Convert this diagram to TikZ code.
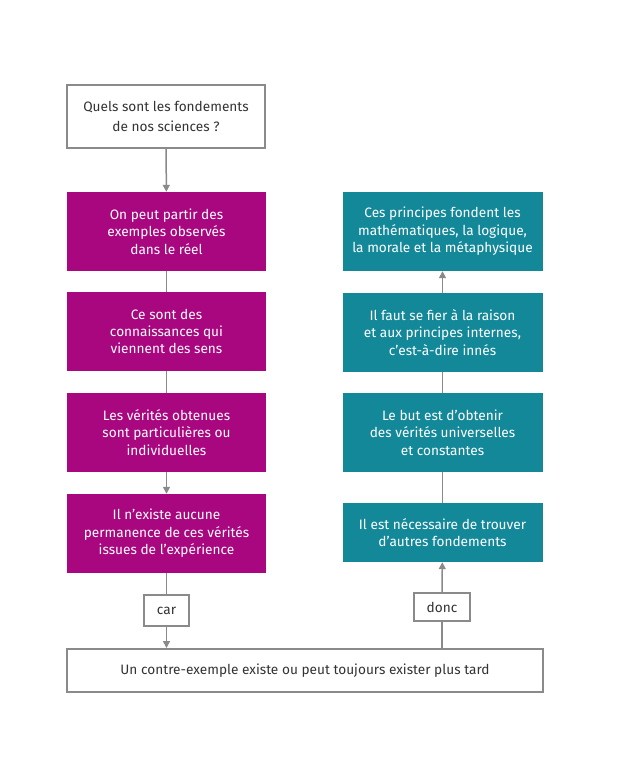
\documentclass[tikz,border=0pt]{standalone}
\usepackage{fontspec}
\setmainfont{Fira Sans}
\usetikzlibrary{arrows.meta}
\definecolor{mag}{HTML}{A8077F}
\definecolor{teal2}{HTML}{138899}
\definecolor{edge}{HTML}{8A8A8A}
\definecolor{txt}{HTML}{333333}
\begin{document}
\begin{tikzpicture}[x=1bp,y=-1bp,
  base/.style={rectangle,inner sep=0pt,align=center,font=\fontsize{13.7}{17.5}\selectfont},
  whitebox/.style={base,draw=edge,line width=2bp,fill=white,text=txt},
  magbox/.style={base,fill=mag,text=white,minimum width=199bp,minimum height=79bp},
  tealbox/.style={base,fill=teal2,text=white,minimum width=200bp,minimum height=79bp},
  conn/.style={draw=edge,line width=1.5bp},
  arr/.style={conn,-{Triangle[width=7bp,length=7bp]}}]
\useasboundingbox (0,0) rectangle (624,766);
\fill[white] (0,0) rectangle (624,766);
\node[whitebox,minimum width=198bp,minimum height=63bp,font=\fontsize{13.7}{21}\selectfont] (q) at (166,116.5) {Quels sont les fondements\\de nos sciences ?};
\node[magbox] (m1) at (166.5,231.5) {On peut partir des\\exemples observés\\dans le réel};
\node[magbox] (m2) at (166.5,331.5) {Ce sont des\\connaissances qui\\viennent des sens};
\node[magbox] (m3) at (166.5,432.5) {Les vérités obtenues\\sont particulières ou\\individuelles};
\node[magbox] (m4) at (166.5,533.5) {Il n’existe aucune\\permanence de ces vérités\\issues de l’expérience};
\node[tealbox] (t1) at (442.5,231.5) {Ces principes fondent les\\mathématiques, la logique,\\la morale et la métaphysique};
\node[tealbox] (t2) at (442.5,332.5) {Il faut se fier à la raison\\et aux principes internes,\\c’est-à-dire innés};
\node[tealbox] (t3) at (442.5,432.5) {Le but est d’obtenir\\des vérités universelles\\et constantes};
\node[tealbox,minimum height=59bp] (t4) at (442.5,532.5) {Il est nécessaire de trouver\\d’autres fondements};
\node[whitebox,minimum width=45bp,minimum height=31bp] (car) at (166.5,610.5) {car};
\node[whitebox,minimum width=56bp,minimum height=28bp] (donc) at (442,607) {donc};
\node[whitebox,minimum width=476bp,minimum height=43bp] (b) at (305,670.5) {Un contre-exemple existe ou peut toujours exister plus tard};
\draw[arr] (q) -- (m1);
\draw[conn] (m1) -- (m2);
\draw[conn] (m2) -- (m3);
\draw[arr] (m3) -- (m4);
\draw[conn] (m4) -- (car);
\draw[arr] (car) -- (car |- b.north);
\draw[conn] (donc |- b.north) -- (donc);
\draw[arr] (donc) -- (t4);
\draw[conn] (t4) -- (t3);
\draw[conn] (t3) -- (t2);
\draw[arr] (t2) -- (t1);
\end{tikzpicture}
\end{document}
